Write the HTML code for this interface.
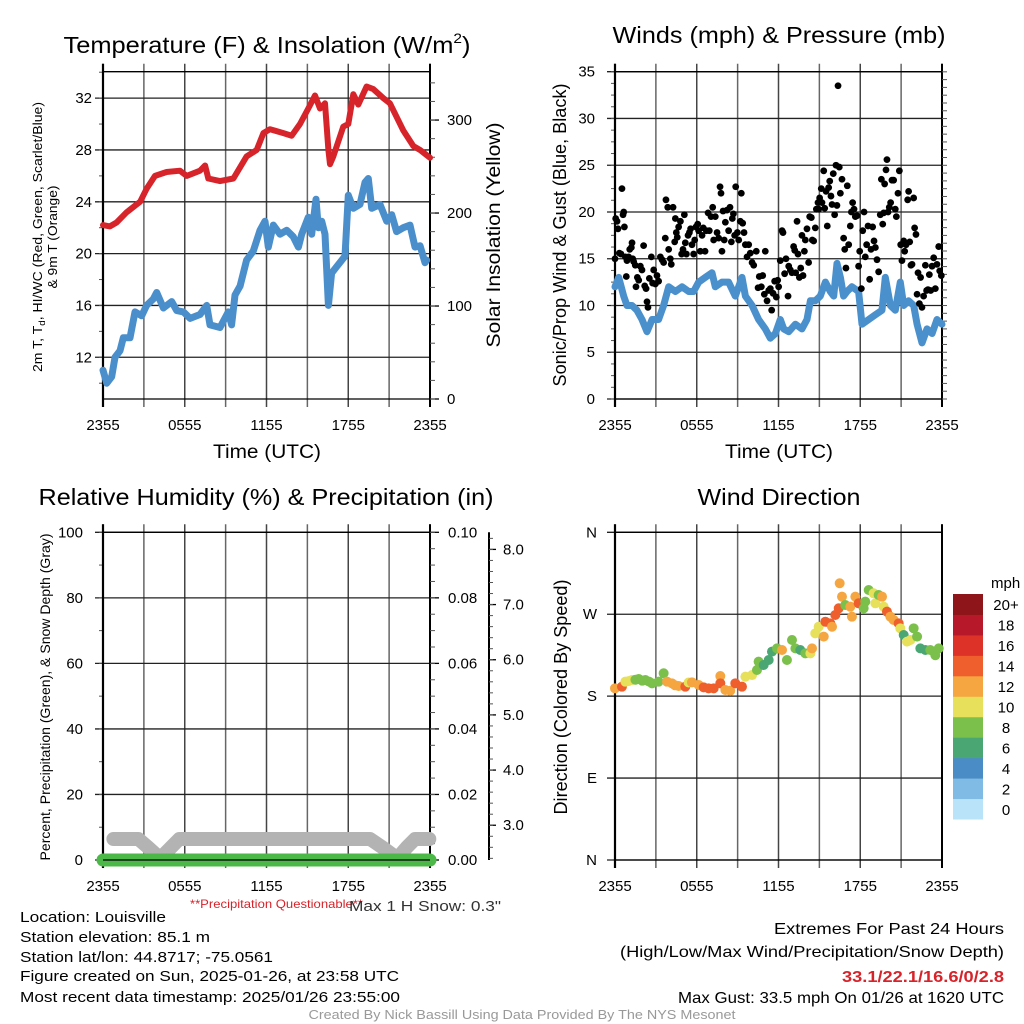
<!DOCTYPE html>
<html><head><meta charset="utf-8"><style>
html,body{margin:0;padding:0;background:#fff}
svg{display:block;font-family:"Liberation Sans",Arial,sans-serif}
</style></head><body>
<svg id="fig" width="1024" height="1024" viewBox="0 0 1024 1024" xmlns="http://www.w3.org/2000/svg">
<rect width="1024" height="1024" fill="#fff"/>
<g id="g1"></g>
<g id="g2"></g>
<g id="g3"></g>
<g id="g4"></g>
<text x="267" y="53" font-size="23" text-anchor="middle" textLength="407" lengthAdjust="spacingAndGlyphs">Temperature (F) &amp; Insolation (W/m<tspan font-size="14" dy="-10">2</tspan><tspan dy="10">)</tspan></text>
<text x="779" y="43" font-size="23" text-anchor="middle" textLength="333" lengthAdjust="spacingAndGlyphs">Winds (mph) &amp; Pressure (mb)</text>
<text x="266" y="505" font-size="23" text-anchor="middle" textLength="455" lengthAdjust="spacingAndGlyphs">Relative Humidity (%) &amp; Precipitation (in)</text>
<text x="779" y="505" font-size="23" text-anchor="middle" textLength="163" lengthAdjust="spacingAndGlyphs">Wind Direction</text>
<text x="267" y="458" font-size="19" text-anchor="middle" textLength="108" lengthAdjust="spacingAndGlyphs">Time (UTC)</text>
<text x="779" y="458" font-size="19" text-anchor="middle" textLength="108" lengthAdjust="spacingAndGlyphs">Time (UTC)</text>
<text transform="translate(42,237) rotate(-90)" font-size="13" text-anchor="middle" textLength="270" lengthAdjust="spacingAndGlyphs">2m T, T<tspan font-size="9" dy="3">d</tspan><tspan dy="-3">, HI/WC (Red, Green, Scarlet/Blue)</tspan></text>
<text transform="translate(57,237) rotate(-90)" font-size="13" text-anchor="middle" textLength="103" lengthAdjust="spacingAndGlyphs">&amp; 9m T (Orange)</text>
<text transform="translate(500,235) rotate(-90)" font-size="19" text-anchor="middle" textLength="225" lengthAdjust="spacingAndGlyphs">Solar Insolation (Yellow)</text>
<text transform="translate(566,235) rotate(-90)" font-size="18" text-anchor="middle" textLength="303" lengthAdjust="spacingAndGlyphs">Sonic/Prop Wind &amp; Gust (Blue, Black)</text>
<text transform="translate(50,697) rotate(-90)" font-size="14" text-anchor="middle" textLength="327" lengthAdjust="spacingAndGlyphs">Percent, Precipitation (Green), &amp; Snow Depth (Gray)</text>
<text transform="translate(567,697) rotate(-90)" font-size="18" text-anchor="middle" textLength="235" lengthAdjust="spacingAndGlyphs">Direction (Colored By Speed)</text>
<text x="190" y="908" font-size="12" fill="#d7232a" textLength="173" lengthAdjust="spacingAndGlyphs">**Precipitation Questionable**</text>
<text x="349" y="911" font-size="15" fill="#333" textLength="152" lengthAdjust="spacingAndGlyphs">Max 1 H Snow: 0.3"</text>
<g font-size="15">
<text x="20" y="922" textLength="146" lengthAdjust="spacingAndGlyphs">Location: Louisville</text>
<text x="20" y="942" textLength="190" lengthAdjust="spacingAndGlyphs">Station elevation: 85.1 m</text>
<text x="20" y="962" textLength="253" lengthAdjust="spacingAndGlyphs">Station lat/lon: 44.8717; -75.0561</text>
<text x="20" y="981" textLength="379" lengthAdjust="spacingAndGlyphs">Figure created on Sun, 2025-01-26, at 23:58 UTC</text>
<text x="20" y="1002" textLength="380" lengthAdjust="spacingAndGlyphs">Most recent data timestamp: 2025/01/26 23:55:00</text>
</g>
<g font-size="16" text-anchor="end">
<text x="1004" y="934" textLength="230" lengthAdjust="spacingAndGlyphs">Extremes For Past 24 Hours</text>
<text x="1004" y="957" textLength="384" lengthAdjust="spacingAndGlyphs">(High/Low/Max Wind/Precipitation/Snow Depth)</text>
<text x="1004" y="982" fill="#d7232a" font-weight="bold" textLength="162" lengthAdjust="spacingAndGlyphs">33.1/22.1/16.6/0/2.8</text>
<text x="1004" y="1003" textLength="326" lengthAdjust="spacingAndGlyphs">Max Gust: 33.5 mph On 01/26 at 1620 UTC</text>
</g>
<text x="522" y="1019" font-size="13" fill="#999" text-anchor="middle" textLength="427" lengthAdjust="spacingAndGlyphs">Created By Nick Bassill Using Data Provided By The NYS Mesonet</text>
</svg>
<script>
const NS="http://www.w3.org/2000/svg";
const xTickLabels=["2355","0555","1155","1755","2355"];
const tempT=[0,0.51,1.0,1.74,2.72,3.2,3.82,4.67,5.65,6.14,7.12,7.49,7.73,8.59,9.57,10.54,11.28,11.77,12.26,13.24,13.85,14.46,15.07,15.56,15.93,16.29,16.54,16.66,16.9,17.64,18.0,18.37,18.74,19.35,19.84,20.57,21.06,22.04,22.78,23.27,24];
const tempV=[22.2,22.1,22.4,23.2,24.0,25.0,26.0,26.3,26.4,26.0,26.4,26.8,25.8,25.6,25.8,27.5,28.0,29.3,29.6,29.3,29.1,30.0,31.2,32.2,31.2,31.6,28.0,26.9,27.5,29.8,30.0,32.3,31.5,32.9,32.7,32.0,31.6,29.5,28.3,28.0,27.4];
const dewT=[0,0.27,0.64,0.88,1.25,1.49,1.98,2.35,2.84,3.2,3.69,3.94,4.43,5.04,5.41,5.9,6.39,7.12,7.61,7.85,8.59,9.2,9.44,9.69,10.06,10.54,11.03,11.52,11.89,12.13,12.5,12.99,13.48,13.97,14.34,14.58,15.07,15.32,15.63,15.8,16.05,16.29,16.54,16.78,17.15,17.76,18.0,18.37,18.86,19.23,19.47,19.72,20.33,20.82,21.19,21.55,22.04,22.53,22.9,23.27,23.63,23.76];
const dewV=[11,10,10.5,12,12.5,13.5,13.5,15.5,15.2,16,16.5,17,15.8,16.3,15.6,15.5,15,15.3,16,14.5,14.3,15.5,14.5,16.8,17.5,19.5,20.2,21.8,22.5,20.5,22.2,21.5,21.8,21.3,20.5,21.5,22.8,21.5,24.2,22,22.5,21.5,16,18.5,19,19.8,24.5,23.5,23.8,25.5,25.8,23.5,23.8,22.5,23,21.7,22,22.2,20.5,20.6,19.3,19.5];
const windT=[0,0.27,0.64,0.88,1.25,1.61,1.98,2.35,2.72,3.2,3.57,3.94,4.43,4.92,5.41,5.77,6.14,6.63,7.12,7.36,7.85,8.34,8.83,9.32,9.57,10.06,10.54,11.03,11.4,11.77,12.13,12.38,12.75,13.24,13.72,14.09,14.34,14.7,15.07,15.44,15.8,16.05,16.29,16.54,16.78,17.03,17.39,17.88,18.13,18.62,19.11,19.6,19.84,20.21,20.57,20.94,21.19,21.55,21.92,22.17,22.53,22.9,23.27,23.63,24];
const windV=[12,13,11,10,10,9.5,8.5,7.2,8.5,8.5,10,12,11.5,12,11.5,11.5,12.5,13,13.5,12,12.5,12.5,11,13,11,10,8.5,7.5,6.5,7,8.5,7.5,7.2,8,7.5,8.5,10.5,10.5,11,12.5,11.5,11,14.5,13,11,11.5,12,11.5,8,8.5,9,9.5,13,10,9.5,12.5,10,10.5,10,8,6,7.5,7,8.5,8];
const gustT=[0,0.05,0.15,0.22,0.32,0.44,0.51,0.59,0.64,0.69,0.76,0.83,0.88,1.0,1.08,1.2,1.25,1.3,1.37,1.49,1.54,1.64,1.74,1.86,1.98,2.1,2.18,2.28,2.35,2.42,2.52,2.67,2.76,2.84,2.96,3.08,3.2,3.33,3.45,3.57,3.69,3.74,3.87,3.94,4.06,4.13,4.26,4.38,4.43,4.5,4.57,4.67,4.8,4.89,4.99,5.09,5.16,5.24,5.36,5.46,5.55,5.65,5.77,5.85,5.94,6.07,6.14,6.26,6.39,6.48,6.61,6.7,6.83,6.92,7.05,7.17,7.24,7.36,7.49,7.61,7.71,7.78,7.85,7.93,8.02,8.1,8.22,8.34,8.44,8.54,8.61,8.69,8.78,8.86,8.98,9.08,9.2,9.27,9.37,9.47,9.57,9.69,9.81,9.93,10.06,10.18,10.37,10.5,10.59,10.74,10.84,10.96,11.03,11.16,11.28,11.4,11.5,11.6,11.72,11.84,11.94,12.01,12.13,12.26,12.33,12.45,12.55,12.7,12.75,12.87,12.99,13.11,13.19,13.26,13.36,13.43,13.53,13.63,13.72,13.8,13.9,13.97,14.09,14.21,14.29,14.41,14.48,14.58,14.7,14.78,14.9,14.95,15.02,15.14,15.19,15.32,15.39,15.49,15.58,15.68,15.76,15.85,15.93,16.02,16.12,16.22,16.29,16.37,16.46,16.54,16.66,16.78,16.86,16.95,17.05,17.15,17.27,17.35,17.44,17.54,17.64,17.76,17.88,17.96,18.08,18.18,18.28,18.37,18.47,18.57,18.69,18.79,18.91,19.01,19.11,19.23,19.35,19.47,19.55,19.65,19.72,19.79,19.89,19.96,20.04,20.13,20.23,20.33,20.45,20.57,20.65,20.77,20.87,20.97,21.06,21.19,21.26,21.36,21.48,21.55,21.63,21.72,21.8,21.92,21.99,22.09,22.17,22.24,22.34,22.43,22.53,22.65,22.78,22.87,22.97,23.07,23.17,23.27,23.39,23.51,23.63,23.76,23.83,23.95];
const gustV=[15,19.3,19,18.2,15.6,15.5,22.5,19.7,20,18.4,15.2,13.1,14.8,15.2,16,16.2,16.7,15,14.7,14.3,12,13,12.7,14.2,13.8,16.4,12.1,11.8,10.4,9.8,12.9,15.2,12.4,13.8,12.3,13.2,12.6,15.2,14.9,14.6,17.2,21.3,20.5,16,15,14.4,20.5,16.8,19.3,17.8,17.3,18.4,19,15.5,16,19.7,16.7,15.5,17.5,17.8,18.2,16.5,15.5,17,18.4,18.7,18,15.8,17.5,18.3,15.8,18,19.9,18,19.5,20.5,17,19.5,17.8,17.2,22.7,22,15.8,20.1,17,18.9,20.2,18,20.5,16.8,19.3,19.8,17.5,22.7,17.8,17,19,22,18.8,17.8,16.5,15.2,16.5,15.6,14.6,14.3,15.8,11.9,13.1,12,13.2,11.2,15.8,10.5,11.6,11.8,9.5,11.3,12.6,10.9,12.7,12,14.8,18,17.8,13.4,15,11,14.2,13.8,13.5,16.3,15.9,13.5,19,15.5,13,14,17.5,13.2,15.8,17,18.2,14.6,19.5,19.4,17,16.9,18.3,20.3,21,20.3,21.5,22.5,21,24.4,20.4,22.2,18.5,22.6,23.3,21.7,20.8,24.1,19.7,25,20.7,33.5,24.8,22,23.5,17.2,16,14,22.8,16.5,18.5,20,21,20.3,19.5,19.6,14.2,15.8,11.8,18,20,15.2,16.5,18.5,12.8,16,18.4,16.9,16.2,14.9,13.6,19.7,23.5,18.7,19.9,23,24.5,25.6,20,20.5,21,23.4,23.4,20.3,19.5,22,24.4,16.5,14.8,16.9,15.8,16.5,21.3,22.2,16.8,14.3,14.4,21.5,18.3,17.6,11.2,13.5,10.2,13,9.8,11,14.3,11.6,11.7,13.3,11.6,14.2,15.1,11.8,14.4,16.3,13.7,13.2];
const dirT=[0,0.51,0.76,1.0,1.25,1.5,1.74,2.0,2.23,2.5,2.72,3.2,3.57,3.82,4.18,4.4,4.67,5.16,5.4,5.65,6.14,6.51,6.87,7.24,7.73,7.73,8.1,8.46,8.83,9.32,9.57,10.06,10.42,10.54,10.91,11.28,11.52,11.89,12.26,12.62,12.99,13.24,13.6,13.97,14.34,14.46,14.7,14.95,15.32,15.44,15.8,15.93,16.17,16.42,16.49,16.66,16.9,17.27,17.39,17.64,17.88,18.25,18.37,18.62,18.98,19.11,19.35,19.6,19.72,19.96,20.21,20.45,20.82,20.94,21.19,21.43,21.68,21.92,22.17,22.41,22.78,23.14,23.51,23.76];
const dirV=[188.6,190.4,195.9,196.5,197.7,198,198.9,197,197.7,196,194.1,195.9,205.1,195.9,194.1,192,191.2,190.4,195,195.2,192.3,189.7,188.6,188.6,202.1,194.1,186.8,186,194.1,190.4,201.4,203.2,208.7,217.9,214.2,219.7,228.9,232.5,230.7,219.7,241.7,232.5,230.7,227,227,232.5,249,256.3,245.4,261.8,260,256.3,269.2,276.5,304,289.3,280.1,278.3,267.3,289.3,282,276.5,283.8,296.6,293,282,291.1,289.3,278.3,272.8,267.3,263.7,260,254.5,247.2,239.9,241.7,254.5,245.4,232.5,230.7,230.7,225,232.5];
const dirS=[13,15,11,11,11,9,9,9,9,9,9,9,9,13,13,13,13,15,11,13,13,15,15,15,13,15,13,13,15,15,11,11,9,9,7,7,7,9,13,9,9,9,7,9,11,13,11,11,13,15,15,13,15,15,13,13,9,13,13,13,15,9,9,9,11,11,9,13,11,15,13,13,15,11,7,11,11,9,9,7,7,9,9,9];
const snowT=[0.76,1.5,2.6,3.3,4.2,5.0,5.6,8,12,16,19.6,20.5,21.6,22.3,22.9,23.95];
const snowV=[2.75,2.75,2.75,2.6,2.4,2.6,2.75,2.75,2.75,2.75,2.75,2.6,2.4,2.6,2.75,2.75];
const precipT=[0,24];
const precipV=[0,0];
const speedBins=["0","2","4","6","8","10","12","14","16","18","20+"];
const binColors=["#b9e3f8","#7fbbe4","#4a8cc6","#4aa673","#7bc04a","#e6e05a","#f6a640","#ee5f2d","#dc3228","#b8192a","#8e1519"];

function el(tag,attrs,parent){const e=document.createElementNS(NS,tag);for(const k in attrs)e.setAttribute(k,attrs[k]);parent.appendChild(e);return e;}
function lin(d0,d1,r0,r1){return v=>r0+(v-d0)*(r1-r0)/(d1-d0);}
function frame(g,x0,x1,y0,y1,yDom,majors,minors,labels,labelX){
  const X=lin(0,24,x0,x1),Y=lin(yDom[0],yDom[1],y1,y0);
  for(let h=0;h<=24;h+=3){
    const l=el('line',{x1:X(h),x2:X(h),y1:y0-8,y2:y1+8,stroke:(h%6===0?'#444':'#666'),'stroke-width':1.5},g);
    
    
  }
  majors.forEach((v,i)=>{
    const l=el('line',{x1:x0-8,x2:x1,y1:Y(v),y2:Y(v),stroke:'#222','stroke-width':1.3},g);
    
    
    const t=el('text',{x:labelX,y:Y(v)+5,'font-size':15,'text-anchor':'end'},g);
    t.textContent=labels[i];
    
    
  });
  minors.forEach(v=>{el('line',{x1:x0-4,x2:x0,y1:Y(v),y2:Y(v),stroke:'#555','stroke-width':1},g);});
  xTickLabels.forEach((s,i)=>{
    const t=el('text',{x:X(i*6),y:y1+31,'font-size':15,'text-anchor':'middle'},g);
    t.textContent=s;
    
    
  });
  el('line',{x1:x0,x2:x0,y1:y0-8,y2:y1+8,stroke:'#000','stroke-width':2.2},g);
  el('line',{x1:x1,x2:x1,y1:y0-8,y2:y1+8,stroke:'#000','stroke-width':2},g);
  el('line',{x1:x0,x2:x1,y1:y0,y2:y0,stroke:'#000','stroke-width':1.3},g);
  el('line',{x1:x0,x2:x1,y1:y1,y2:y1,stroke:'#000','stroke-width':1.3},g);
  return {X,Y};
}
function rightAxis(g,x1,y0,y1,dom,majors,minors,labels,lx){
  const Y=lin(dom[0],dom[1],y1,y0);
  majors.forEach((v,i)=>{
    el('line',{x1:x1,x2:x1+9,y1:Y(v),y2:Y(v),stroke:'#000','stroke-width':1.3},g);
    const t=el('text',{x:lx,y:Y(v)+5,'font-size':15},g);
    t.textContent=labels[i];
    
    
  });
  minors.forEach(v=>{el('line',{x1:x1,x2:x1+5,y1:Y(v),y2:Y(v),stroke:'#555','stroke-width':1},g);});
}
function path(g,T,V,X,Y,color,w,name){
  let d='';T.forEach((t,i)=>{d+=(i?'L':'M')+X(t).toFixed(1)+','+Y(V[i]).toFixed(1);});
  const p=el('path',{d:d,fill:'none',stroke:color,'stroke-width':w,'stroke-linejoin':'round','stroke-linecap':'round'},g);
  
  
  return p;
}
const rng=(a,b,s)=>{const r=[];for(let v=a;v<=b+1e-9;v+=s)r.push(+v.toFixed(4));return r;};

// Panel 1
const g1=document.getElementById('g1');
const A1=frame(g1,103,430,71.7,399,[8.78,34.04],[12,16,20,24,28,32],rng(10,34,2),["12","16","20","24","28","32"],92);
rightAxis(g1,430,71.7,399,[0,352],[0,100,200,300],rng(0,340,20),["0","100","200","300"],447);
path(g1,dewT,dewV,A1.X,A1.Y,'#4a8fcb',7,'dewpoint-line');
path(g1,tempT,tempV,A1.X,A1.Y,'#d7232a',6,'temperature-line');

// Panel 2
const g2=document.getElementById('g2');
const A2=frame(g2,615,942,71.7,399,[0,35],[0,5,10,15,20,25,30,35],rng(0,35,1.25),["0","5","10","15","20","25","30","35"],595);
rightAxis(g2,942,71.7,399,[0,35],[],rng(0,35,0.833),[],960);
path(g2,windT,windV,A2.X,A2.Y,'#4a90cc',7,'wind-speed-line');
gustT.forEach((t,i)=>{
  const c=el('circle',{cx:A2.X(t),cy:A2.Y(gustV[i]),r:3.4,fill:'#000'},g2);
  
  
});

// Panel 3
const g3=document.getElementById('g3');
const A3=frame(g3,103,430,532.3,860,[0,100],[0,20,40,60,80,100],rng(0,100,10),["0","20","40","60","80","100"],83);
rightAxis(g3,430,532.3,860,[0,0.1],[0,0.02,0.04,0.06,0.08,0.1],rng(0,0.1,0.005),["0.00","0.02","0.04","0.06","0.08","0.10"],448);
const snowDom=[2.37,8.31];
const YS=lin(snowDom[0],snowDom[1],860,532.3);
el('line',{x1:489,x2:489,y1:532.3,y2:860,stroke:'#000','stroke-width':2},g3);
["3.0","4.0","5.0","6.0","7.0","8.0"].forEach((s,i)=>{
  const v=3+i;
  el('line',{x1:489,x2:496,y1:YS(v),y2:YS(v),stroke:'#000','stroke-width':1.3},g3);
  const t=el('text',{x:503,y:YS(v)+5,'font-size':15},g3);
  t.textContent=s;
  
  
});
rng(2.4,8.2,0.2).forEach(v=>{el('line',{x1:489,x2:493,y1:YS(v),y2:YS(v),stroke:'#555','stroke-width':1},g3);});
const clip=el('clipPath',{id:'c3'},g3);el('rect',{x:90,y:532,width:360,height:338},clip);
const sp=path(g3,snowT,snowV,A3.X,YS,'#b3b3b3',14,'snow-depth-line');sp.setAttribute('clip-path','url(#c3)');
const YP=lin(0,0.1,860,532.3);
path(g3,precipT,precipV,A3.X,YP,'#4cb848',13,'precipitation-line');
el('line',{x1:103,x2:430,y1:860,y2:860,stroke:'#000','stroke-width':1.3},g3);

// Panel 4
const g4=document.getElementById('g4');
const A4=frame(g4,615,942,532.3,860,[0,360],[0,90,180,270,360],[],["N","E","S","W","N"],597);
function binColor(s){return binColors[Math.min(10,Math.floor(s/2))];}
dirT.forEach((t,i)=>{
  const c=el('circle',{cx:A4.X(t),cy:A4.Y(dirV[i]),r:5,fill:binColor(dirS[i])},g4);
  
  
});
const cb=el('g',{},g4);
const cbTop=594,cbH=225/11;
speedBins.forEach((s,i)=>{
  const y=cbTop+(10-i)*cbH;
  const r=el('rect',{x:953,y:y,width:30,height:cbH+0.5,fill:binColors[i]},cb);
  
  
  const t=el('text',{x:1006,y:y+cbH/2+6,'font-size':15,'text-anchor':'middle'},cb);
  t.textContent=s;
  
  
});
const mt=el('text',{x:991,y:588,'font-size':15},cb);mt.textContent='mph';


</script>
</body></html>
